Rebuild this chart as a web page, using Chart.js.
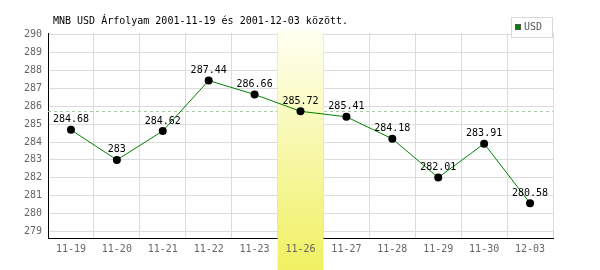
<!DOCTYPE html>
<html lang="hu">
<head>
  <meta charset="UTF-8">
  <title>MNB USD árfolyam</title>
  <script src="https://cdn.jsdelivr.net/npm/chart.js"></script>
  <style>
    body {
      margin: 0;
      background: #fff;
    }
  </style>
</head>
<body>
  <canvas id="rateChart" width="600" height="270"></canvas>

  <script>
    // data
    const days = ['11-19', '11-20', '11-21', '11-22', '11-23', '11-26', '11-27', '11-28', '11-29', '11-30', '12-03'];
    const usd = [284.68, 283, 284.62, 287.44, 286.66, 285.72, 285.41, 284.18, 282.01, 283.91, 280.58];
    const yTicks = [279, 280, 281, 282, 283, 284, 285, 286, 287, 288, 289, 290];
    const highlightDay = '11-26';
    const chartTitle = 'MNB USD Árfolyam 2001-11-19 és 2001-12-03 között.';
    const seriesName = 'USD';

    const mono = '"DejaVu Sans Mono", monospace';

    // highlighted day band + dashed reference line at that day's rate
    const bandPlugin = {
      id: 'band',
      beforeDatasetsDraw(chart) {
        const ctx = chart.ctx;
        const x = chart.scales.x;
        const y = chart.scales.y;
        const area = chart.chartArea;
        const idx = days.indexOf(highlightDay);

        const ly = y.getPixelForValue(usd[idx]);
        ctx.save();
        ctx.strokeStyle = '#a8cca8';
        ctx.lineWidth = 1;
        ctx.setLineDash([3, 3]);
        ctx.beginPath();
        ctx.moveTo(area.left, Math.round(ly) + 0.5);
        ctx.lineTo(area.right, Math.round(ly) + 0.5);
        ctx.stroke();
        ctx.restore();

        const half = (x.getPixelForValue(1) - x.getPixelForValue(0)) / 2;
        const cx = x.getPixelForValue(idx);
        const top = 30, bottom = chart.height;
        const grad = ctx.createLinearGradient(0, top, 0, bottom);
        grad.addColorStop(0, '#fffff2');
        grad.addColorStop(1, '#f0f062');
        ctx.save();
        ctx.fillStyle = grad;
        ctx.fillRect(cx - half, top, half * 2, bottom - top);
        ctx.restore();
      },
      afterDatasetsDraw(chart) {
        const ctx = chart.ctx;
        const meta = chart.getDatasetMeta(0);
        ctx.save();
        ctx.font = '10px ' + mono;
        ctx.fillStyle = '#000';
        ctx.textAlign = 'center';
        ctx.textBaseline = 'middle';
        meta.data.forEach((pt, i) => {
          ctx.fillText(String(usd[i]), pt.x, pt.y - 10);
        });
        ctx.restore();
      },
      afterDraw(chart) {
        const ctx = chart.ctx;
        ctx.save();
        ctx.font = '10px ' + mono;
        ctx.textBaseline = 'middle';
        ctx.fillStyle = '#000';
        ctx.fillText(chartTitle, 53, 21);

        // legend box
        ctx.fillStyle = '#fff';
        ctx.fillRect(511, 17, 41, 20);
        ctx.strokeStyle = '#d8d8d8';
        ctx.strokeRect(511.5, 17.5, 41, 20);
        ctx.fillStyle = '#008000';
        ctx.fillRect(515, 24, 6, 6);
        ctx.strokeStyle = '#555';
        ctx.strokeRect(515.5, 24.5, 5, 5);
        ctx.fillStyle = '#555';
        ctx.fillText(seriesName, 524, 27.5);
        ctx.restore();
      }
    };

    const ctx = document.getElementById('rateChart').getContext('2d');
    new Chart(ctx, {
      type: 'line',
      data: {
        labels: days,
        datasets: [{
          label: seriesName,
          data: usd,
          borderColor: '#008000',
          borderWidth: 1,
          pointRadius: 4,
          pointBackgroundColor: '#000',
          pointBorderColor: '#000',
          pointBorderWidth: 0,
          tension: 0
        }]
      },
      options: {
        responsive: false,
        animation: false,
        events: [],
        layout: {
          padding: { top: 33, left: 0, right: 47, bottom: 0 }
        },
        plugins: {
          legend: { display: false },
          title: { display: false },
          tooltip: { enabled: false }
        },
        scales: {
          x: {
            offset: true,
            grid: { color: '#dcdcdc', offset: true, drawTicks: false },
            border: { color: '#000', width: 1 },
            ticks: {
              z: 1,
              color: '#666',
              padding: 5,
              maxRotation: 0,
              autoSkip: false,
              font: { family: mono, size: 10 }
            },
            afterFit(s) { s.height = 32; }
          },
          y: {
            min: 278.63,
            max: 290.1,
            grid: { color: '#dcdcdc', drawTicks: false },
            border: { color: '#000', width: 1 },
            ticks: {
              color: '#666',
              padding: 6,
              font: { family: mono, size: 10 }
            },
            afterBuildTicks(axis) {
              axis.ticks = yTicks.map(v => ({ value: v }));
            },
            afterFit(s) { s.width = 48; }
          }
        }
      },
      plugins: [bandPlugin]
    });
  </script>
</body>
</html>
